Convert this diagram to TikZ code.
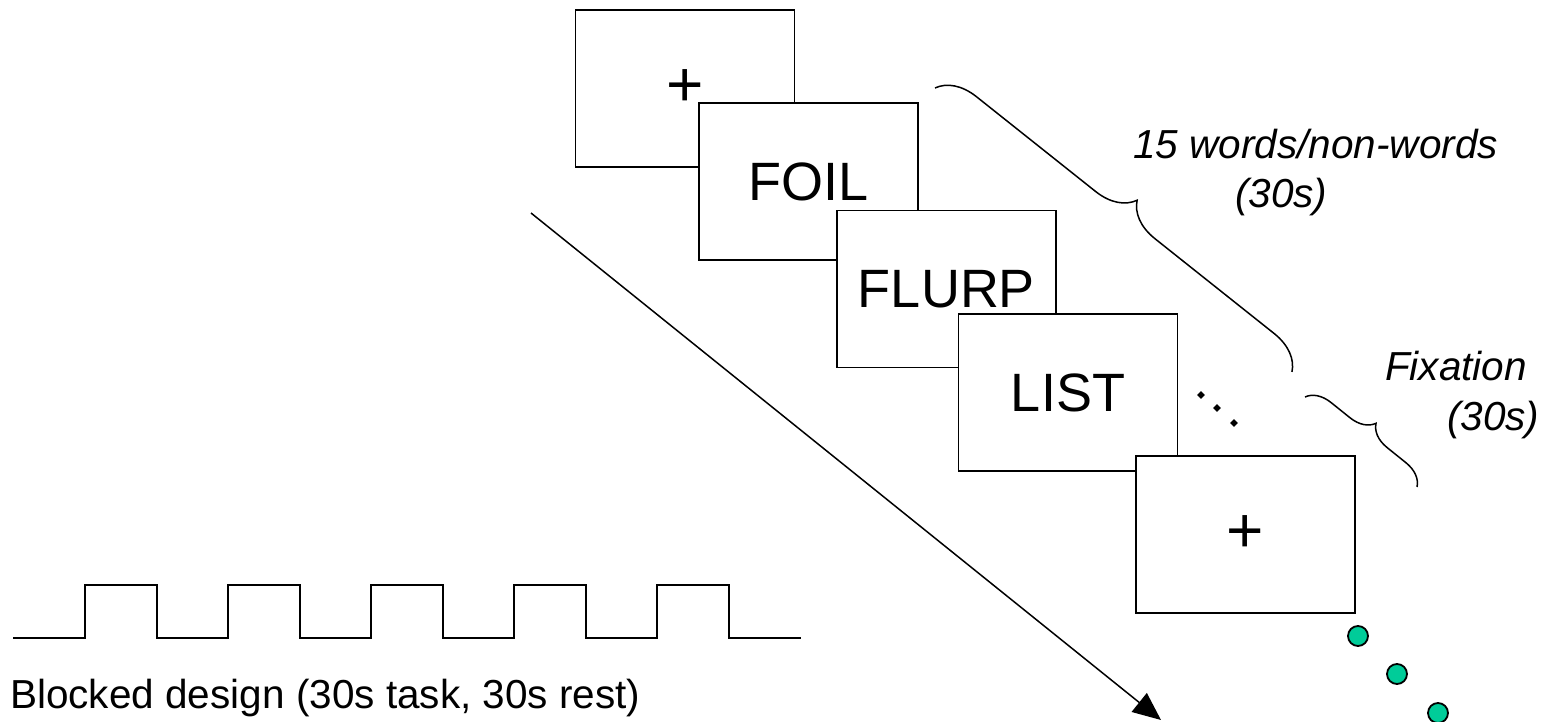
\documentclass[tikz,border=0pt]{standalone}
\usepackage{fontspec}
\setmainfont{Liberation Sans}
\usetikzlibrary{arrows.meta,decorations.pathreplacing,shapes.geometric}
\definecolor{dotgreen}{RGB}{0,204,153}
\begin{document}
\begin{tikzpicture}[x=1pt,y=-1pt,
  card/.style={draw, line width=1.5pt, fill=white, minimum width=219pt, minimum height=157pt, inner sep=0pt, font=\fontsize{54}{60}\selectfont},
  pluscard/.style={card, font=\fontsize{64}{70}\selectfont},
  lbl/.style={font=\fontsize{40.5}{48}\selectfont\itshape, anchor=base west, inner sep=0pt},
  plainlbl/.style={font=\fontsize{40.5}{48}\selectfont, anchor=base west, inner sep=0pt},
  bracel/.style={decorate, decoration={brace, amplitude=#1}, line width=1.5pt},
  elldot/.style={diamond, fill=black, minimum size=8pt, inner sep=0pt},
  gdot/.style={circle, draw=black, line width=1.8pt, fill=dotgreen, minimum size=20pt, inner sep=0pt},
  wave/.style={line width=1.5pt}
]
\useasboundingbox (0,0) rectangle (1556,722);

% square wave
\draw[wave] (13,638) -- (85,638) -- (85,585) -- (157,585) -- (157,638)
  -- (228,638) -- (228,585) -- (300,585) -- (300,638)
  -- (371,638) -- (371,585) -- (443,585) -- (443,638)
  -- (514,638) -- (514,585) -- (586,585) -- (586,638)
  -- (657,638) -- (657,585) -- (729,585) -- (729,638) -- (801,638);
\node[plainlbl] (blk) at (10,708) {Blocked design (30s task, 30s rest)};

% time arrow
\coordinate (as) at (531,213);
\coordinate (ae) at (1161,720);
\draw[line width=1.5pt, -{Triangle[length=28pt,width=24pt]}] (as) -- (ae);

% stimulus cards
\node[pluscard] (c1) at (685,88.5) {+};
\node[card] (c2) at (808.5,181.5) {FOIL};
\node[card] (c3) at (946.5,289) {FLURP};
\node[card] (c4) at (1068,392.5) {LIST};
\node[pluscard] (c5) at (1245.5,534.5) {+};

% ellipsis
\node[elldot] (e1) at (1201,395) {};
\node[elldot] (e2) at (1217,408) {};
\node[elldot] (e3) at (1234,423) {};

% braces
\coordinate (b1s) at (935,88);
\coordinate (b1e) at (1292,372);
\draw[bracel=38pt] (b1s) -- (b1e);
\coordinate (b2s) at (1305,397);
\coordinate (b2e) at (1417,487);
\draw[bracel=24pt] (b2s) -- (b2e);

% labels
\node[lbl] (w1) at (1133,159) {15 words/non-words};
\node[lbl] (w2) at (1235,208) {(30s)};
\node[lbl] (f1) at (1385,380) {Fixation};
\node[lbl] (f2) at (1447,430) {(30s)};

% green dots
\node[gdot] (g1) at (1358,636) {};
\node[gdot] (g2) at (1397,674) {};
\node[gdot] (g3) at (1438,713) {};
\end{tikzpicture}
\end{document}
